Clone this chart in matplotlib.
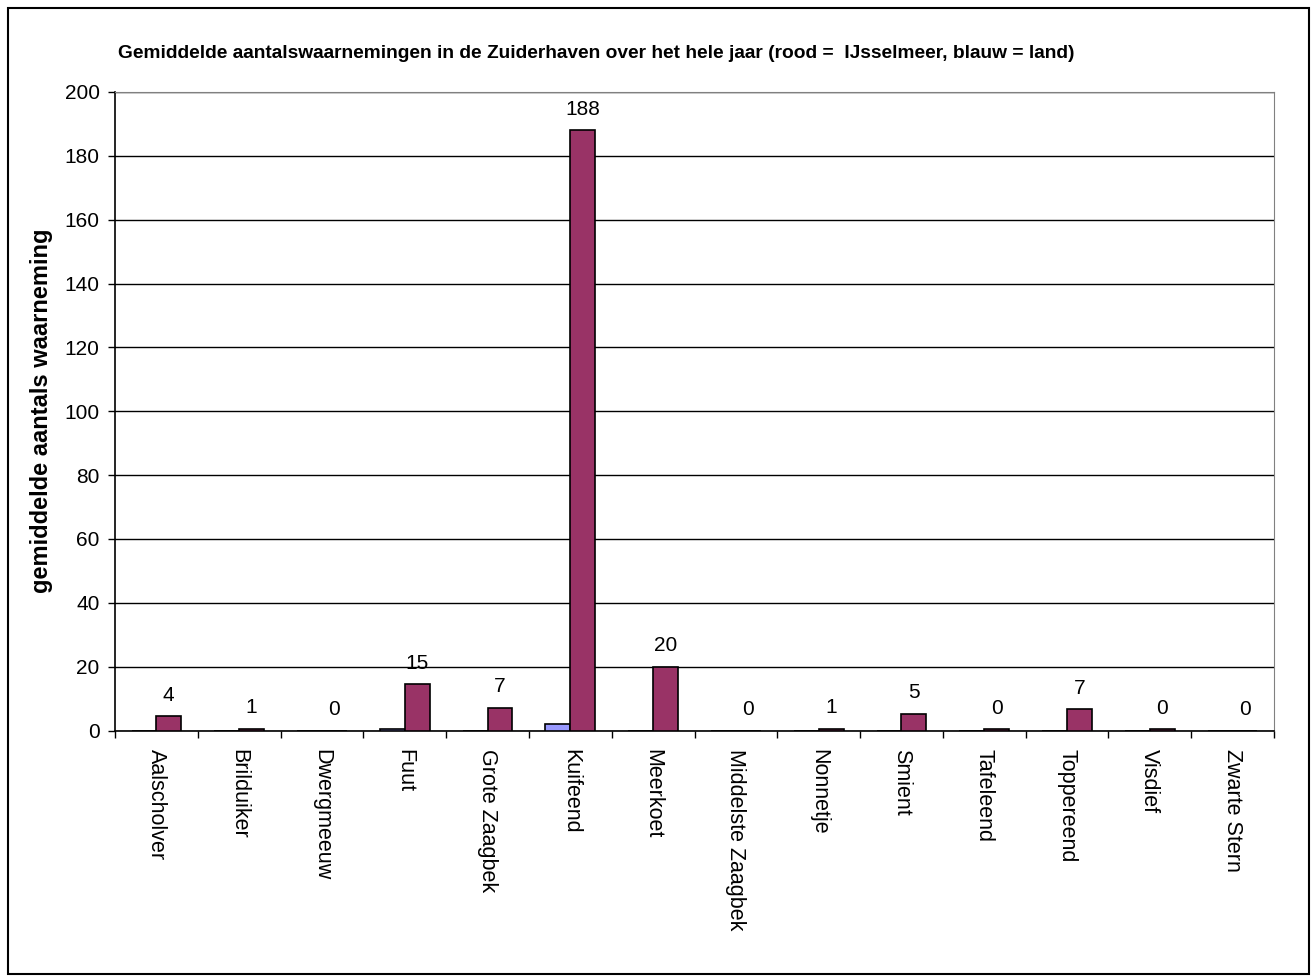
import numpy as np
from matplotlib import pyplot as plt
from matplotlib.patches import Rectangle

plt.rcParams["font.family"] = ["Liberation Sans", "DejaVu Sans"]

soorten = ["Aalscholver", "Brilduiker", "Dwergmeeuw", "Fuut", "Grote Zaagbek",
           "Kuifeend", "Meerkoet", "Middelste Zaagbek", "Nonnetje", "Smient",
           "Tafeleend", "Toppereend", "Visdief", "Zwarte Stern"]
# gemiddelde aantallen per soort
land = [0, 0, 0, 0.5, 0, 2.0, 0, 0, 0, 0, 0, 0, 0, 0]
ijsselmeer = [4.4, 0.6, 0, 14.6, 7.2, 188, 20, 0, 0.6, 5.3, 0.4, 6.6, 0.4, 0]

W, H = 1313, 976
fig = plt.figure(figsize=(W / 100, H / 100), dpi=100)
ax = fig.add_axes([115 / W, 1 - 730.5 / H, (1274 - 115) / W, (730.5 - 92) / H])

x = np.arange(len(soorten)) + 0.5
bw = 0.3
ax.bar(x - bw / 2, land, width=bw, color="#9999FF", edgecolor="black", linewidth=1.2, zorder=3)
ax.bar(x + bw / 2, ijsselmeer, width=bw, color="#993366", edgecolor="black", linewidth=1.2, zorder=3)

for xi, v in zip(x, ijsselmeer):
    ax.annotate(f"{v:.0f}", (xi + bw / 2, v), xytext=(0, 15), textcoords="offset points",
                ha="center", va="center", fontsize=15, zorder=4)

ax.set_xlim(0, len(soorten))
ax.set_ylim(0, 200)
ax.set_yticks(range(0, 201, 20))
ax.yaxis.grid(True, color="black", linewidth=1)
ax.set_axisbelow(True)

ax.set_xticks(x)
ax.set_xticklabels(soorten, rotation=270, va="top", ha="center", fontsize=15.5)
ax.set_xticks(np.arange(len(soorten) + 1), minor=True)
ax.tick_params(axis="x", which="major", length=0, pad=13)
ax.tick_params(axis="x", which="minor", length=5, width=1, direction="out")
ax.tick_params(axis="y", length=5, width=1, direction="out", labelsize=15, pad=6)

for s in ["top", "right"]:
    ax.spines[s].set_color("#808080")
for s in ["left", "bottom"]:
    ax.spines[s].set_color("black")
    ax.spines[s].set_linewidth(1.2)

ax.set_ylabel("gemiddelde aantals waarneming", fontsize=17, fontweight="bold", labelpad=8)

fig.text(118 / W, 1 - 53 / H,
         "Gemiddelde aantalswaarnemingen in de Zuiderhaven over het hele jaar (rood =  IJsselmeer, blauw = land)",
         fontsize=13.8, fontweight="bold", ha="left", va="center")

# rand om de hele grafiek
fig.patches.append(Rectangle((8 / W, 0.002), (1309 - 8) / W, 1 - 8 / H - 0.002,
                             transform=fig.transFigure, fill=False, edgecolor="black", linewidth=1.5))

fig.savefig("out.png", dpi=100)
